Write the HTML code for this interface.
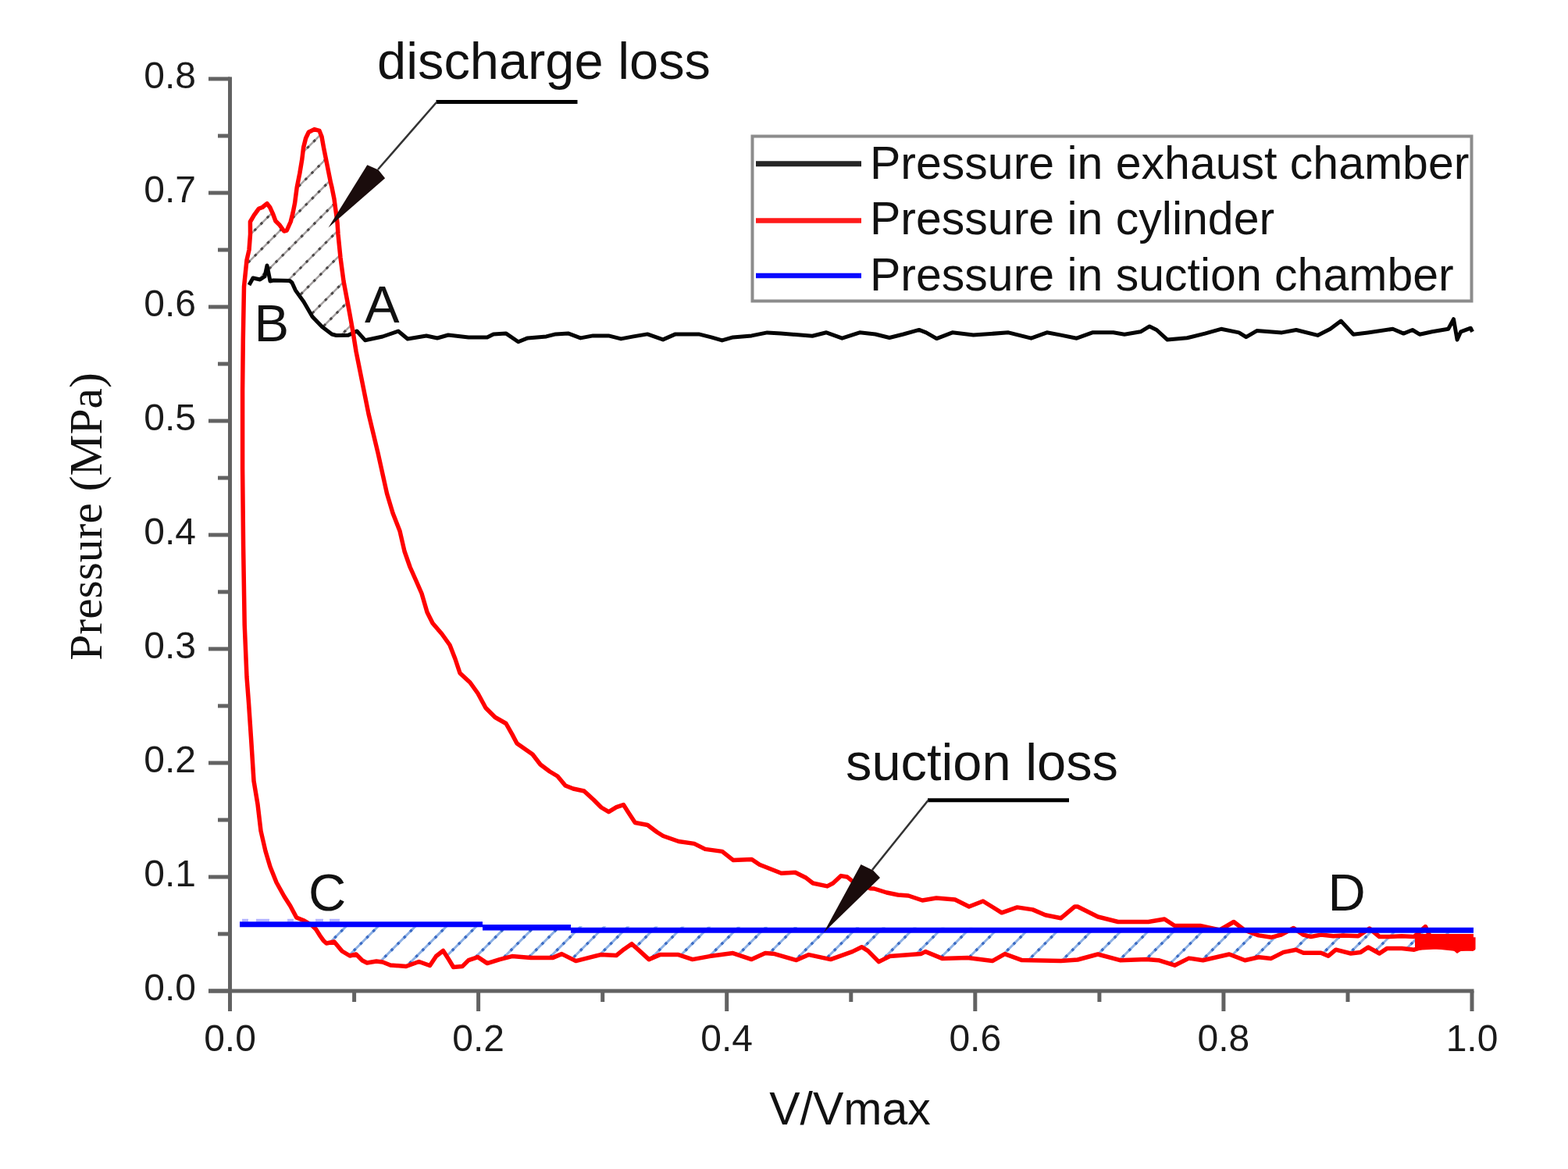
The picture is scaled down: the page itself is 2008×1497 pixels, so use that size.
<!DOCTYPE html>
<html><head><meta charset="utf-8"><title>Pressure vs V/Vmax</title>
<style>html,body{margin:0;padding:0;background:#fff;overflow:hidden}svg{display:block}</style>
</head><body>
<svg width="2008" height="1497" viewBox="0 0 2008 1497">
<rect width="2008" height="1497" fill="#fff"/>
<defs>
<clipPath id="cd"><polygon points="454.0,437.0 447.5,400.0 440.0,360.0 436.0,330.0 433.0,300.0 432.0,285.0 430.0,270.0 428.0,255.0 425.0,240.0 423.5,234.0 420.5,219.0 417.5,204.0 414.5,189.0 412.0,175.0 409.0,167.4 402.5,165.6 395.3,169.2 391.6,177.0 388.6,189.0 386.8,204.0 383.8,222.0 380.2,240.0 377.6,260.0 375.2,272.0 372.2,284.0 367.3,295.0 363.7,296.0 357.7,287.7 352.9,283.0 349.3,273.3 345.7,265.5 342.0,260.7 336.0,265.5 331.3,267.3 325.3,275.7 320.4,284.0 320.5,300.0 319.0,320.0 316.0,333.0 312.5,367.0 319.0,365.0 324.0,356.0 333.0,358.0 339.0,354.0 342.0,340.0 346.0,360.0 350.0,359.0 371.0,359.5 374.0,362.0 378.3,371.6 389.0,386.5 400.0,405.5 412.5,418.6 425.0,428.0 430.6,429.5 446.0,429.3"/></clipPath>
<clipPath id="cs"><polygon points="399.6,1185.0 1886.5,1190.0 1886.5,1190.0 1886.8,1214.6 1866.9,1215.4 1843.0,1213.0 1827.0,1211.4 1811.0,1216.2 1795.1,1214.6 1776.0,1214.6 1766.5,1221.0 1752.1,1213.0 1742.5,1219.4 1729.8,1221.0 1710.7,1216.2 1701.1,1224.2 1691.6,1220.2 1669.2,1220.2 1659.7,1216.2 1643.7,1219.4 1627.8,1227.4 1611.9,1225.8 1594.3,1229.8 1574.2,1222.0 1540.5,1229.7 1522.4,1227.1 1504.3,1236.2 1483.6,1229.7 1468.0,1228.4 1434.4,1229.7 1405.9,1222.0 1380.0,1229.0 1358.5,1230.6 1308.7,1229.6 1286.8,1221.6 1270.8,1230.6 1239.0,1226.6 1207.1,1227.6 1185.2,1218.6 1179.2,1221.6 1139.4,1224.6 1125.4,1231.6 1111.5,1217.6 1103.5,1212.7 1091.6,1218.6 1063.7,1228.6 1035.8,1222.6 1019.8,1229.6 992.0,1221.6 980.0,1220.6 962.5,1228.6 938.6,1220.6 908.7,1224.6 886.8,1228.6 868.8,1222.6 845.0,1222.6 831.0,1228.6 819.0,1217.6 809.0,1208.7 799.0,1215.7 789.2,1223.6 769.2,1222.6 749.3,1227.6 737.4,1230.6 719.4,1221.6 707.5,1226.6 679.6,1226.6 655.7,1224.6 640.0,1228.6 624.0,1233.6 612.0,1225.6 600.0,1229.6 592.0,1237.6 580.6,1238.5 574.6,1228.5 567.5,1217.5 558.5,1224.5 550.5,1236.5 536.5,1231.5 520.0,1237.5 500.0,1236.0 490.0,1232.0 482.0,1231.0 470.0,1233.0 464.0,1230.0 456.0,1222.0 448.0,1224.0 438.0,1218.0 428.0,1206.0 418.0,1208.0 414.5,1204.8 409.5,1197.8 404.6,1190.0 399.6,1185.0"/></clipPath>
</defs>
<g clip-path="url(#cd)">
<g stroke="#a8a4a4" stroke-width="2.6"><line x1="133.0" y1="450.0" x2="433.0" y2="150.0"/>
<line x1="171.0" y1="450.0" x2="471.0" y2="150.0"/>
<line x1="204.0" y1="450.0" x2="504.0" y2="150.0"/>
<line x1="239.0" y1="450.0" x2="539.0" y2="150.0"/>
<line x1="278.0" y1="450.0" x2="578.0" y2="150.0"/>
<line x1="312.0" y1="450.0" x2="612.0" y2="150.0"/>
<line x1="351.0" y1="450.0" x2="651.0" y2="150.0"/>
<line x1="382.0" y1="450.0" x2="682.0" y2="150.0"/>
<line x1="416.0" y1="450.0" x2="716.0" y2="150.0"/></g>
<g stroke="#4a4646" stroke-width="3" stroke-dasharray="3.5 8"><line x1="133.0" y1="450.0" x2="433.0" y2="150.0"/>
<line x1="171.0" y1="450.0" x2="471.0" y2="150.0"/>
<line x1="204.0" y1="450.0" x2="504.0" y2="150.0"/>
<line x1="239.0" y1="450.0" x2="539.0" y2="150.0"/>
<line x1="278.0" y1="450.0" x2="578.0" y2="150.0"/>
<line x1="312.0" y1="450.0" x2="612.0" y2="150.0"/>
<line x1="351.0" y1="450.0" x2="651.0" y2="150.0"/>
<line x1="382.0" y1="450.0" x2="682.0" y2="150.0"/>
<line x1="416.0" y1="450.0" x2="716.0" y2="150.0"/></g>
</g>
<g clip-path="url(#cs)">
<g stroke="#8db0e4" stroke-width="3"><line x1="379.5" y1="1250.0" x2="459.5" y2="1170.0"/>
<line x1="420.5" y1="1250.0" x2="500.5" y2="1170.0"/>
<line x1="468.2" y1="1250.0" x2="548.2" y2="1170.0"/>
<line x1="508.0" y1="1250.0" x2="588.0" y2="1170.0"/>
<line x1="546.3" y1="1250.0" x2="626.3" y2="1170.0"/>
<line x1="584.6" y1="1250.0" x2="664.6" y2="1170.0"/>
<line x1="621.2" y1="1250.0" x2="701.2" y2="1170.0"/>
<line x1="653.0" y1="1250.0" x2="733.0" y2="1170.0"/>
<line x1="680.0" y1="1250.0" x2="760.0" y2="1170.0"/>
<line x1="710.5" y1="1250.0" x2="790.5" y2="1170.0"/>
<line x1="740.7" y1="1250.0" x2="820.7" y2="1170.0"/>
<line x1="777.0" y1="1250.0" x2="857.0" y2="1170.0"/>
<line x1="811.0" y1="1250.0" x2="891.0" y2="1170.0"/>
<line x1="845.0" y1="1250.0" x2="925.0" y2="1170.0"/>
<line x1="883.0" y1="1250.0" x2="963.0" y2="1170.0"/>
<line x1="918.0" y1="1250.0" x2="998.0" y2="1170.0"/>
<line x1="956.0" y1="1250.0" x2="1036.0" y2="1170.0"/>
<line x1="998.0" y1="1250.0" x2="1078.0" y2="1170.0"/>
<line x1="1035.5" y1="1250.0" x2="1115.5" y2="1170.0"/>
<line x1="1069.0" y1="1250.0" x2="1149.0" y2="1170.0"/>
<line x1="1109.0" y1="1250.0" x2="1189.0" y2="1170.0"/>
<line x1="1145.0" y1="1250.0" x2="1225.0" y2="1170.0"/>
<line x1="1181.0" y1="1250.0" x2="1261.0" y2="1170.0"/>
<line x1="1217.0" y1="1250.0" x2="1297.0" y2="1170.0"/>
<line x1="1257.0" y1="1250.0" x2="1337.0" y2="1170.0"/>
<line x1="1296.5" y1="1250.0" x2="1376.5" y2="1170.0"/>
<line x1="1340.0" y1="1250.0" x2="1420.0" y2="1170.0"/>
<line x1="1378.0" y1="1250.0" x2="1458.0" y2="1170.0"/>
<line x1="1413.0" y1="1250.0" x2="1493.0" y2="1170.0"/>
<line x1="1446.0" y1="1250.0" x2="1526.0" y2="1170.0"/>
<line x1="1482.5" y1="1250.0" x2="1562.5" y2="1170.0"/>
<line x1="1519.0" y1="1250.0" x2="1599.0" y2="1170.0"/>
<line x1="1551.0" y1="1250.0" x2="1631.0" y2="1170.0"/>
<line x1="1583.0" y1="1250.0" x2="1663.0" y2="1170.0"/>
<line x1="1624.0" y1="1250.0" x2="1704.0" y2="1170.0"/>
<line x1="1665.0" y1="1250.0" x2="1745.0" y2="1170.0"/>
<line x1="1699.0" y1="1250.0" x2="1779.0" y2="1170.0"/>
<line x1="1729.0" y1="1250.0" x2="1809.0" y2="1170.0"/>
<line x1="1766.0" y1="1250.0" x2="1846.0" y2="1170.0"/>
<line x1="1799.0" y1="1250.0" x2="1879.0" y2="1170.0"/></g>
<g stroke="#3c6cc4" stroke-width="3.4" stroke-dasharray="3.5 8"><line x1="379.5" y1="1250.0" x2="459.5" y2="1170.0"/>
<line x1="420.5" y1="1250.0" x2="500.5" y2="1170.0"/>
<line x1="468.2" y1="1250.0" x2="548.2" y2="1170.0"/>
<line x1="508.0" y1="1250.0" x2="588.0" y2="1170.0"/>
<line x1="546.3" y1="1250.0" x2="626.3" y2="1170.0"/>
<line x1="584.6" y1="1250.0" x2="664.6" y2="1170.0"/>
<line x1="621.2" y1="1250.0" x2="701.2" y2="1170.0"/>
<line x1="653.0" y1="1250.0" x2="733.0" y2="1170.0"/>
<line x1="680.0" y1="1250.0" x2="760.0" y2="1170.0"/>
<line x1="710.5" y1="1250.0" x2="790.5" y2="1170.0"/>
<line x1="740.7" y1="1250.0" x2="820.7" y2="1170.0"/>
<line x1="777.0" y1="1250.0" x2="857.0" y2="1170.0"/>
<line x1="811.0" y1="1250.0" x2="891.0" y2="1170.0"/>
<line x1="845.0" y1="1250.0" x2="925.0" y2="1170.0"/>
<line x1="883.0" y1="1250.0" x2="963.0" y2="1170.0"/>
<line x1="918.0" y1="1250.0" x2="998.0" y2="1170.0"/>
<line x1="956.0" y1="1250.0" x2="1036.0" y2="1170.0"/>
<line x1="998.0" y1="1250.0" x2="1078.0" y2="1170.0"/>
<line x1="1035.5" y1="1250.0" x2="1115.5" y2="1170.0"/>
<line x1="1069.0" y1="1250.0" x2="1149.0" y2="1170.0"/>
<line x1="1109.0" y1="1250.0" x2="1189.0" y2="1170.0"/>
<line x1="1145.0" y1="1250.0" x2="1225.0" y2="1170.0"/>
<line x1="1181.0" y1="1250.0" x2="1261.0" y2="1170.0"/>
<line x1="1217.0" y1="1250.0" x2="1297.0" y2="1170.0"/>
<line x1="1257.0" y1="1250.0" x2="1337.0" y2="1170.0"/>
<line x1="1296.5" y1="1250.0" x2="1376.5" y2="1170.0"/>
<line x1="1340.0" y1="1250.0" x2="1420.0" y2="1170.0"/>
<line x1="1378.0" y1="1250.0" x2="1458.0" y2="1170.0"/>
<line x1="1413.0" y1="1250.0" x2="1493.0" y2="1170.0"/>
<line x1="1446.0" y1="1250.0" x2="1526.0" y2="1170.0"/>
<line x1="1482.5" y1="1250.0" x2="1562.5" y2="1170.0"/>
<line x1="1519.0" y1="1250.0" x2="1599.0" y2="1170.0"/>
<line x1="1551.0" y1="1250.0" x2="1631.0" y2="1170.0"/>
<line x1="1583.0" y1="1250.0" x2="1663.0" y2="1170.0"/>
<line x1="1624.0" y1="1250.0" x2="1704.0" y2="1170.0"/>
<line x1="1665.0" y1="1250.0" x2="1745.0" y2="1170.0"/>
<line x1="1699.0" y1="1250.0" x2="1779.0" y2="1170.0"/>
<line x1="1729.0" y1="1250.0" x2="1809.0" y2="1170.0"/>
<line x1="1766.0" y1="1250.0" x2="1846.0" y2="1170.0"/>
<line x1="1799.0" y1="1250.0" x2="1879.0" y2="1170.0"/></g>
</g>
<g stroke="#626262" stroke-width="5" fill="none" stroke-linecap="butt">
<line x1="294.5" y1="98.5" x2="294.5" y2="1295"/>
<line x1="267" y1="1269.0" x2="1887.5" y2="1269.0"/>
<line x1="267" y1="1269.0" x2="294.5" y2="1269.0"/>
<line x1="267" y1="1123.0" x2="294.5" y2="1123.0"/>
<line x1="267" y1="977.0" x2="294.5" y2="977.0"/>
<line x1="267" y1="831.0" x2="294.5" y2="831.0"/>
<line x1="267" y1="685.0" x2="294.5" y2="685.0"/>
<line x1="267" y1="539.0" x2="294.5" y2="539.0"/>
<line x1="267" y1="393.0" x2="294.5" y2="393.0"/>
<line x1="267" y1="247.0" x2="294.5" y2="247.0"/>
<line x1="267" y1="101.0" x2="294.5" y2="101.0"/>
<line x1="279" y1="1196.0" x2="294.5" y2="1196.0"/>
<line x1="279" y1="1050.0" x2="294.5" y2="1050.0"/>
<line x1="279" y1="904.0" x2="294.5" y2="904.0"/>
<line x1="279" y1="758.0" x2="294.5" y2="758.0"/>
<line x1="279" y1="612.0" x2="294.5" y2="612.0"/>
<line x1="279" y1="466.0" x2="294.5" y2="466.0"/>
<line x1="279" y1="320.0" x2="294.5" y2="320.0"/>
<line x1="279" y1="174.0" x2="294.5" y2="174.0"/>
<line x1="294.5" y1="1269.0" x2="294.5" y2="1295"/>
<line x1="612.6" y1="1269.0" x2="612.6" y2="1295"/>
<line x1="930.7" y1="1269.0" x2="930.7" y2="1295"/>
<line x1="1248.8" y1="1269.0" x2="1248.8" y2="1295"/>
<line x1="1566.9" y1="1269.0" x2="1566.9" y2="1295"/>
<line x1="1885.0" y1="1269.0" x2="1885.0" y2="1295"/>
<line x1="453.6" y1="1269.0" x2="453.6" y2="1283"/>
<line x1="771.7" y1="1269.0" x2="771.7" y2="1283"/>
<line x1="1089.8" y1="1269.0" x2="1089.8" y2="1283"/>
<line x1="1407.9" y1="1269.0" x2="1407.9" y2="1283"/>
<line x1="1726.0" y1="1269.0" x2="1726.0" y2="1283"/>
</g>
<g font-family="Liberation Sans, Arial, sans-serif" font-size="48" fill="#1a1a1a">
<text x="251" y="1281.0" text-anchor="end">0.0</text>
<text x="251" y="1135.0" text-anchor="end">0.1</text>
<text x="251" y="989.0" text-anchor="end">0.2</text>
<text x="251" y="843.0" text-anchor="end">0.3</text>
<text x="251" y="697.0" text-anchor="end">0.4</text>
<text x="251" y="551.0" text-anchor="end">0.5</text>
<text x="251" y="405.0" text-anchor="end">0.6</text>
<text x="251" y="259.0" text-anchor="end">0.7</text>
<text x="251" y="113.0" text-anchor="end">0.8</text>
<text x="294.5" y="1346.4" text-anchor="middle">0.0</text>
<text x="612.6" y="1346.4" text-anchor="middle">0.2</text>
<text x="930.7" y="1346.4" text-anchor="middle">0.4</text>
<text x="1248.8" y="1346.4" text-anchor="middle">0.6</text>
<text x="1566.9" y="1346.4" text-anchor="middle">0.8</text>
<text x="1885.0" y="1346.4" text-anchor="middle">1.0</text>
</g>
<text x="1088.5" y="1439.5" text-anchor="middle" font-family="Liberation Sans, Arial, sans-serif" font-size="59" fill="#111">V/Vmax</text>
<text transform="translate(130,661.5) rotate(-90)" text-anchor="middle" font-family="Liberation Serif, Times New Roman, serif" font-size="59.5" fill="#111">Pressure (MPa)</text>
<polyline points="319.0,365.0 324.0,356.0 333.0,358.0 339.0,354.0 342.0,340.0 346.0,360.0 350.0,359.0 371.0,359.5 374.0,362.0 378.3,371.6 389.0,386.5 400.0,405.5 412.5,418.6 425.0,428.0 430.6,429.5 446.0,429.3 457.0,424.0 467.5,435.7 490.0,431.0 510.0,424.0 522.0,434.0 546.0,430.0 560.0,433.0 574.0,429.0 600.0,432.0 623.9,431.9 631.9,427.9 647.8,426.9 663.7,437.8 675.7,432.9 699.6,430.9 711.6,427.9 727.5,426.9 743.4,432.9 759.4,429.9 779.3,429.9 795.2,433.9 811.2,430.9 829.1,427.9 849.0,434.9 865.0,427.9 894.8,427.9 910.8,431.9 924.7,435.9 938.6,431.9 962.5,429.9 982.5,425.9 1000.0,427.0 1040.3,430.3 1058.3,425.8 1078.4,433.2 1100.9,425.8 1121.0,428.0 1139.0,432.5 1156.9,428.0 1177.0,422.4 1186.0,425.8 1199.5,433.6 1219.6,425.8 1246.5,429.1 1291.4,425.8 1320.5,433.2 1340.7,425.8 1358.6,429.1 1378.8,433.2 1398.9,425.8 1425.8,425.8 1440.0,428.2 1460.6,424.8 1472.1,417.9 1481.2,422.5 1495.0,435.1 1520.2,432.8 1543.1,427.1 1563.7,421.3 1586.6,425.9 1595.8,431.7 1609.5,423.6 1641.6,425.9 1659.9,422.5 1687.4,429.4 1703.5,421.3 1717.2,411.0 1733.2,428.2 1751.6,425.9 1783.6,421.3 1797.4,427.1 1808.8,422.5 1818.0,428.2 1834.0,424.8 1854.7,421.3 1861.5,408.7 1866.1,435.1 1870.7,424.8 1883.3,420.2 1885.6,424.8" fill="none" stroke="#050505" stroke-width="5" stroke-linejoin="round"/>
<polyline points="1886.8,1200.3 1866.9,1198.7 1850.9,1200.3 1831.8,1200.3 1825.4,1186.5 1811.0,1199.5 1795.1,1198.7 1779.2,1199.5 1766.5,1199.5 1753.7,1189.0 1739.4,1198.7 1720.2,1197.9 1707.5,1198.7 1691.6,1197.1 1678.8,1199.5 1669.2,1197.1 1656.5,1188.5 1640.6,1197.1 1627.8,1200.3 1611.9,1197.9 1600.0,1193.4 1592.3,1190.0 1580.0,1180.5 1562.0,1191.0 1537.0,1185.5 1504.3,1185.5 1491.3,1177.0 1470.6,1180.5 1431.8,1180.5 1406.0,1174.0 1380.0,1161.0 1376.4,1160.9 1358.5,1175.8 1338.6,1171.8 1322.6,1164.9 1302.7,1161.9 1282.8,1168.8 1258.9,1154.0 1241.0,1161.0 1223.0,1152.0 1199.1,1150.0 1181.2,1153.0 1163.3,1147.0 1150.0,1146.0 1135.4,1143.0 1119.4,1138.0 1114.6,1137.8 1091.0,1128.0 1085.0,1123.0 1077.0,1121.6 1066.8,1131.0 1059.4,1134.9 1041.0,1131.0 1032.5,1124.3 1018.5,1117.3 1000.6,1118.3 972.7,1107.3 962.7,1100.4 938.8,1101.4 924.9,1090.4 903.0,1087.4 889.0,1080.4 869.1,1077.5 849.2,1070.5 841.2,1065.5 829.3,1056.5 813.3,1053.5 805.4,1041.6 798.4,1030.6 789.4,1033.6 779.5,1039.6 770.0,1034.0 760.0,1024.0 748.0,1013.0 734.0,1010.0 724.0,1006.0 714.0,994.0 704.0,988.0 692.0,979.0 682.0,966.0 672.0,959.0 662.0,952.0 656.0,940.6 648.0,926.5 634.0,918.5 622.0,906.5 612.0,888.0 602.0,874.0 589.0,862.0 583.0,844.0 576.0,826.0 566.0,812.0 554.0,798.0 547.0,784.0 540.0,760.0 533.0,744.0 525.0,726.0 518.0,706.0 512.0,680.0 503.0,657.0 495.5,632.0 484.0,580.0 472.0,530.0 462.0,480.0 456.0,450.0 452.0,425.0 447.5,400.0 440.0,360.0 436.0,330.0 433.0,300.0 432.0,285.0 430.0,270.0 428.0,255.0 425.0,240.0 423.5,234.0 420.5,219.0 417.5,204.0 414.5,189.0 412.0,175.0 409.0,167.4 402.5,165.6 395.3,169.2 391.6,177.0 388.6,189.0 386.8,204.0 383.8,222.0 380.2,240.0 377.6,260.0 375.2,272.0 372.2,284.0 367.3,295.0 363.7,296.0 357.7,287.7 352.9,283.0 349.3,273.3 345.7,265.5 342.0,260.7 336.0,265.5 331.3,267.3 325.3,275.7 320.4,284.0 320.5,300.0 319.0,320.0 316.0,333.0 312.5,367.0 311.3,434.0 310.6,500.0 310.6,600.0 311.6,700.0 313.2,800.0 316.0,867.0 318.5,900.0 321.7,948.0 325.0,1000.0 330.0,1030.0 334.0,1064.0 340.0,1090.0 346.0,1110.0 354.0,1130.0 364.0,1148.0 371.7,1160.0 379.7,1175.0 389.6,1179.0 399.6,1185.0 404.6,1190.0 409.5,1197.8 414.5,1204.8 418.0,1208.0 428.0,1206.0 438.0,1218.0 448.0,1224.0 456.0,1222.0 464.0,1230.0 470.0,1233.0 482.0,1231.0 490.0,1232.0 500.0,1236.0 520.0,1237.5 536.5,1231.5 550.5,1236.5 558.5,1224.5 567.5,1217.5 574.6,1228.5 580.6,1238.5 592.0,1237.6 600.0,1229.6 612.0,1225.6 624.0,1233.6 640.0,1228.6 655.7,1224.6 679.6,1226.6 707.5,1226.6 719.4,1221.6 737.4,1230.6 749.3,1227.6 769.2,1222.6 789.2,1223.6 799.0,1215.7 809.0,1208.7 819.0,1217.6 831.0,1228.6 845.0,1222.6 868.8,1222.6 886.8,1228.6 908.7,1224.6 938.6,1220.6 962.5,1228.6 980.0,1220.6 992.0,1221.6 1019.8,1229.6 1035.8,1222.6 1063.7,1228.6 1091.6,1218.6 1103.5,1212.7 1111.5,1217.6 1125.4,1231.6 1139.4,1224.6 1179.2,1221.6 1185.2,1218.6 1207.1,1227.6 1239.0,1226.6 1270.8,1230.6 1286.8,1221.6 1308.7,1229.6 1358.5,1230.6 1380.0,1229.0 1405.9,1222.0 1434.4,1229.7 1468.0,1228.4 1483.6,1229.7 1504.3,1236.2 1522.4,1227.1 1540.5,1229.7 1574.2,1222.0 1594.3,1229.8 1611.9,1225.8 1627.8,1227.4 1643.7,1219.4 1659.7,1216.2 1669.2,1220.2 1691.6,1220.2 1701.1,1224.2 1710.7,1216.2 1729.8,1221.0 1742.5,1219.4 1752.1,1213.0 1766.5,1221.0 1776.0,1214.6 1795.1,1214.6 1811.0,1216.2 1827.0,1211.4 1843.0,1213.0 1866.9,1215.4 1886.8,1214.6 1886.8,1200.3" fill="none" stroke="#ff0000" stroke-width="5.5" stroke-linejoin="round"/>
<polygon points="1812,1196 1887,1196 1887,1218 1872,1217 1866,1221 1860,1216 1840,1215.5 1812,1217" fill="#ff0000"/>
<g stroke="#b4b4ff" stroke-width="3.5"><line x1="310" y1="1178.5" x2="318" y2="1178.5"/><line x1="328" y1="1178.5" x2="345" y2="1178.5"/><line x1="368" y1="1178.5" x2="376" y2="1178.5"/><line x1="404" y1="1178.5" x2="414" y2="1178.5"/><line x1="422" y1="1178.5" x2="435" y2="1178.5"/></g>
<g stroke="#0000ff" stroke-width="7" fill="none">
<line x1="307" y1="1183.8" x2="618" y2="1183.8"/>
<line x1="618" y1="1187.8" x2="731" y2="1187.8" stroke-width="7.5"/>
<line x1="731" y1="1191.2" x2="1887" y2="1191.2"/>
</g>
<g font-family="Liberation Sans, Arial, sans-serif" font-size="66.8" fill="#111">
<text x="483" y="101">discharge loss</text>
<text x="1083" y="998.8">suction loss</text>
<text x="467" y="412.5">A</text>
<text x="325.5" y="437">B</text>
<text x="395" y="1165.5">C</text>
<text x="1700.5" y="1166">D</text>
</g>
<g stroke="#000" fill="none">
<polyline points="739.5,130.5 558.5,130.5" stroke-width="5"/>
<line x1="559" y1="131" x2="484" y2="217" stroke="#333" stroke-width="2.6"/>
<polyline points="1369,1024.7 1188,1024.7" stroke-width="5"/>
<line x1="1188.5" y1="1025" x2="1117" y2="1114" stroke="#333" stroke-width="2.6"/>
</g>
<polygon points="470.3,211.3 484.5,217.5 493.1,228.2 420.5,291.5" fill="#1a0c0c"/>
<polygon points="1102.5,1107 1118,1114.5 1127,1124 1055,1194" fill="#1a0c0c"/>
<rect x="963.5" y="174.5" width="921" height="211" fill="#fff" stroke="#8c8c8c" stroke-width="4"/>
<line x1="968" y1="209.7" x2="1103" y2="209.7" stroke="#262626" stroke-width="7"/>
<line x1="968" y1="282.6" x2="1103" y2="282.6" stroke="#ff1a1a" stroke-width="6.5"/>
<line x1="968" y1="353.1" x2="1103" y2="353.1" stroke="#0a0aff" stroke-width="6.5"/>
<g font-family="Liberation Sans, Arial, sans-serif" font-size="59" fill="#111">
<text x="1114" y="229">Pressure in exhaust chamber</text>
<text x="1114" y="300">Pressure in cylinder</text>
<text x="1114" y="371.5">Pressure in suction chamber</text>
</g>
</svg>
</body></html>
